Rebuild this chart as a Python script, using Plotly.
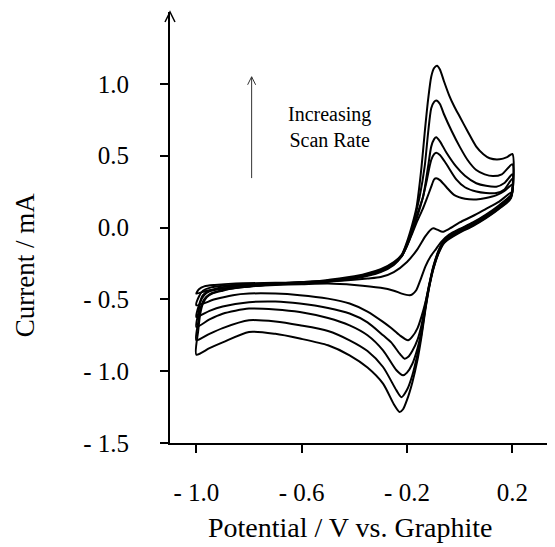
import plotly.graph_objects as go

# ---- data (Potential / V, Current / mA), one closed loop per scan rate ----
V1 = [-1.0, -0.99, -0.97, -0.93, -0.85, -0.7, -0.55, -0.45, -0.35, -0.3, -0.25, -0.2, -0.16, -0.13, -0.11, -0.1,
      -0.085, -0.065, -0.04, 0.0, 0.05, 0.1, 0.15, 0.2,
      0.195, 0.15, 0.1, 0.05, 0.0, -0.04, -0.07, -0.09, -0.11, -0.13, -0.15, -0.165, -0.18, -0.19, -0.22, -0.25,
      -0.3, -0.4, -0.5, -0.6, -0.7, -0.8, -0.9, -0.96, -1.0]
I1 = [-0.46, -0.43, -0.41, -0.40, -0.39, -0.385, -0.38, -0.37, -0.355, -0.345, -0.31, -0.24, -0.15, -0.06, -0.015, -0.006,
      -0.015, -0.03, -0.01, 0.035, 0.08, 0.13, 0.18, 0.25,
      0.225, 0.155, 0.09, 0.035, -0.01, -0.05, -0.1, -0.15, -0.2, -0.27, -0.37, -0.437, -0.465, -0.471, -0.46, -0.44,
      -0.42, -0.40, -0.39, -0.395, -0.40, -0.41, -0.425, -0.44, -0.46]

V2 = [-1.0, -0.99, -0.975, -0.95, -0.9, -0.8, -0.7, -0.6, -0.5, -0.4, -0.3, -0.25, -0.22, -0.2, -0.18, -0.16, -0.14,
      -0.127, -0.108, -0.097, -0.089, -0.075, -0.05, -0.02, 0.02, 0.063, 0.1, 0.14, 0.17, 0.2,
      0.195, 0.15, 0.1, 0.05, 0.0, -0.04, -0.06, -0.08, -0.1, -0.115, -0.13, -0.145, -0.16, -0.18, -0.196, -0.228,
      -0.26, -0.291, -0.35, -0.418, -0.5, -0.607, -0.7, -0.8, -0.861, -0.93, -1.0]
I2 = [-0.541, -0.48, -0.44, -0.42, -0.405, -0.395, -0.39, -0.385, -0.375, -0.355, -0.31, -0.26, -0.20, -0.13, -0.04,
      0.05, 0.13, 0.19, 0.284, 0.335, 0.342, 0.33, 0.28, 0.225, 0.20, 0.195, 0.205, 0.225, 0.255, 0.30,
      0.225, 0.15, 0.085, 0.03, -0.015, -0.06, -0.09, -0.16, -0.27, -0.39, -0.52, -0.62, -0.70, -0.76, -0.785, -0.75,
      -0.70, -0.657, -0.585, -0.529, -0.495, -0.471, -0.46, -0.46, -0.471, -0.50, -0.541]

V3 = [-1.0, -0.99, -0.975, -0.95, -0.9, -0.8, -0.7, -0.6, -0.5, -0.4, -0.3, -0.25, -0.22, -0.2, -0.18, -0.16, -0.139,
      -0.127, -0.108, -0.097, -0.089, -0.075, -0.05, -0.013, 0.02, 0.063, 0.1, 0.139, 0.17, 0.2,
      0.195, 0.15, 0.1, 0.05, 0.0, -0.04, -0.06, -0.08, -0.1, -0.115, -0.13, -0.145, -0.16, -0.18, -0.195, -0.209,
      -0.228, -0.26, -0.291, -0.35, -0.418, -0.5, -0.607, -0.7, -0.8, -0.9, -0.95, -1.0]
I3 = [-0.623, -0.54, -0.47, -0.44, -0.415, -0.40, -0.39, -0.385, -0.37, -0.35, -0.305, -0.255, -0.20, -0.125, -0.03,
      0.08, 0.214, 0.31, 0.47, 0.51, 0.521, 0.505, 0.44, 0.335, 0.28, 0.25, 0.24, 0.24, 0.265, 0.34,
      0.22, 0.145, 0.08, 0.025, -0.02, -0.065, -0.095, -0.165, -0.275, -0.395, -0.53, -0.68, -0.78, -0.86, -0.90,
      -0.913, -0.878, -0.80, -0.75, -0.66, -0.599, -0.56, -0.529, -0.515, -0.52, -0.55, -0.58, -0.623]

V4 = [-1.0, -0.993, -0.985, -0.97, -0.95, -0.9, -0.8, -0.7, -0.6, -0.5, -0.4, -0.3, -0.25, -0.22, -0.2, -0.18, -0.16,
      -0.139, -0.12, -0.108, -0.097, -0.089, -0.075, -0.05, -0.013, 0.02, 0.063, 0.1, 0.139, 0.17, 0.2,
      0.195, 0.15, 0.1, 0.05, 0.0, -0.04, -0.06, -0.08, -0.1, -0.115, -0.13, -0.145, -0.16, -0.18, -0.2, -0.215,
      -0.24, -0.291, -0.35, -0.418, -0.5, -0.607, -0.7, -0.8, -0.9, -0.95, -1.0]
I4 = [-0.692, -0.6, -0.52, -0.47, -0.445, -0.425, -0.405, -0.39, -0.38, -0.37, -0.35, -0.30, -0.25, -0.20, -0.12,
      -0.02, 0.10, 0.214, 0.423, 0.563, 0.615, 0.628, 0.60, 0.52, 0.423, 0.36, 0.308, 0.29, 0.284, 0.31, 0.37,
      0.215, 0.14, 0.075, 0.02, -0.025, -0.07, -0.10, -0.17, -0.28, -0.40, -0.55, -0.72, -0.84, -0.95, -1.01, -1.029,
      -0.994, -0.855, -0.75, -0.681, -0.63, -0.588, -0.57, -0.564, -0.6, -0.64, -0.692]

V5 = [-1.0, -0.993, -0.985, -0.97, -0.95, -0.9, -0.8, -0.7, -0.6, -0.5, -0.4, -0.3, -0.25, -0.22, -0.2, -0.18, -0.165,
      -0.152, -0.133, -0.12, -0.108, -0.097, -0.089, -0.075, -0.06, -0.03, 0.0, 0.03, 0.063, 0.095, 0.126, 0.16, 0.2,
      0.195, 0.15, 0.1, 0.05, 0.0, -0.04, -0.06, -0.08, -0.1, -0.115, -0.13, -0.145, -0.16, -0.18, -0.2, -0.221,
      -0.24, -0.291, -0.35, -0.418, -0.5, -0.607, -0.7, -0.8, -0.9, -0.95, -1.0]
I5 = [-0.785, -0.66, -0.57, -0.5, -0.465, -0.435, -0.41, -0.395, -0.38, -0.37, -0.345, -0.295, -0.245, -0.19, -0.11,
      0.0, 0.11, 0.214, 0.423, 0.656, 0.83, 0.875, 0.884, 0.86, 0.79, 0.67, 0.563, 0.47, 0.40, 0.37, 0.358, 0.37, 0.44,
      0.21, 0.135, 0.07, 0.015, -0.03, -0.075, -0.105, -0.175, -0.285, -0.405, -0.56, -0.74, -0.88, -1.03, -1.13,
      -1.181, -1.134, -0.971, -0.86, -0.785, -0.72, -0.681, -0.655, -0.646, -0.7, -0.74, -0.785]

V6 = [-1.0, -0.993, -0.985, -0.975, -0.96, -0.94, -0.9, -0.85, -0.8, -0.7, -0.6, -0.5, -0.4, -0.3, -0.25, -0.22, -0.2,
      -0.18, -0.165, -0.158, -0.145, -0.133, -0.12, -0.108, -0.097, -0.086, -0.075, -0.06, -0.04, -0.02, 0.0, 0.03,
      0.063, 0.09, 0.114, 0.152, 0.18, 0.2,
      0.195, 0.15, 0.1, 0.05, 0.0, -0.04, -0.06, -0.08, -0.1, -0.115, -0.13, -0.145, -0.16, -0.18, -0.2, -0.215,
      -0.228, -0.25, -0.291, -0.35, -0.418, -0.5, -0.607, -0.7, -0.8, -0.9, -0.95, -1.0]
I6 = [-0.885, -0.72, -0.6, -0.53, -0.485, -0.46, -0.44, -0.42, -0.41, -0.395, -0.385, -0.365, -0.34, -0.29, -0.24,
      -0.19, -0.10, 0.02, 0.13, 0.214, 0.42, 0.656, 0.888, 1.05, 1.11, 1.126, 1.10, 1.02, 0.92, 0.84, 0.772, 0.67,
      0.563, 0.51, 0.482, 0.475, 0.49, 0.512,
      0.205, 0.13, 0.065, 0.01, -0.035, -0.08, -0.11, -0.18, -0.29, -0.41, -0.57, -0.76, -0.92, -1.08, -1.20, -1.265,
      -1.285, -1.23, -1.087, -0.975, -0.89, -0.82, -0.773, -0.74, -0.727, -0.80, -0.84, -0.885]

CURVES = [(V1, I1), (V2, I2), (V3, I3), (V4, I4), (V5, I5), (V6, I6)]

X_TICKS = [-1.0, -0.6, -0.2, 0.2]
X_TICK_TEXT = ["- 1.0", "- 0.6", "- 0.2", "0.2"]
Y_TICKS = [-1.5, -1.0, -0.5, 0.0, 0.5, 1.0]
Y_TICK_TEXT = ["- 1.5", "- 1.0", "- 0.5", "0.0", "0.5", "1.0"]

X_TITLE = "Potential / V vs. Graphite"
Y_TITLE = "Current / mA"
NOTE = "Increasing<br>Scan Rate"

FONT = "Liberation Serif, Times New Roman, serif"

fig = go.Figure()
for v, i in CURVES:
    fig.add_trace(go.Scatter(x=v, y=i, mode="lines",
                             line=dict(color="black", width=2, shape="spline", smoothing=0.7),
                             showlegend=False, hoverinfo="skip"))

axis_common = dict(showgrid=False, zeroline=False, showline=True, linecolor="black",
                   ticks="outside", ticklen=8, tickwidth=1.5, tickcolor="black", automargin=False,
                   tickfont=dict(family=FONT, size=25, color="black"))

# the page body adds an 8px offset, so margins are set 8px smaller at top/left
fig.update_layout(
    width=555, height=547,
    margin=dict(l=162, r=8, t=4, b=112, autoexpand=False),
    paper_bgcolor="white", plot_bgcolor="white",
    xaxis=dict(range=[-1.1, 0.362], tickvals=X_TICKS, ticktext=X_TICK_TEXT,
               linewidth=2, ticklabelstandoff=18, **axis_common),
    yaxis=dict(range=[-1.5, 1.5], tickvals=Y_TICKS, ticktext=Y_TICK_TEXT,
               linewidth=2, ticklabelstandoff=26, **axis_common),
)

# axis titles
fig.add_annotation(text=X_TITLE, xref="paper", yref="paper", x=0.468, y=-0.197,
                   showarrow=False, font=dict(family=FONT, size=28, color="black"),
                   xanchor="center", yanchor="middle", borderpad=0)
fig.add_annotation(text=Y_TITLE, xref="paper", yref="paper", x=-0.376, y=0.413,
                   showarrow=False, textangle=-90, font=dict(family=FONT, size=27, color="black"),
                   xanchor="center", yanchor="middle")

# y-axis arrow head
fig.add_shape(type="path", xref="paper", yref="paper", xsizemode="pixel", ysizemode="pixel",
              xanchor=0, yanchor=1, path="M -5,-10 L 0,0 L 5,-10",
              line=dict(color="black", width=1.5))

# "Increasing Scan Rate" note with arrow
fig.add_annotation(text=NOTE, x=-0.494, y=0.70, xref="x", yref="y", showarrow=False,
                   font=dict(family=FONT, size=20, color="black"), align="center")
fig.add_shape(type="line", xref="x", yref="y", x0=-0.79, x1=-0.79, y0=0.344, y1=1.049,
              line=dict(color="#333", width=1))
fig.add_shape(type="path", xref="x", yref="y", xsizemode="pixel", ysizemode="pixel",
              xanchor=-0.79, yanchor=1.049, path="M -4,-8 L 0,0 L 4,-8",
              line=dict(color="#333", width=1))

fig.write_html("out.html")
